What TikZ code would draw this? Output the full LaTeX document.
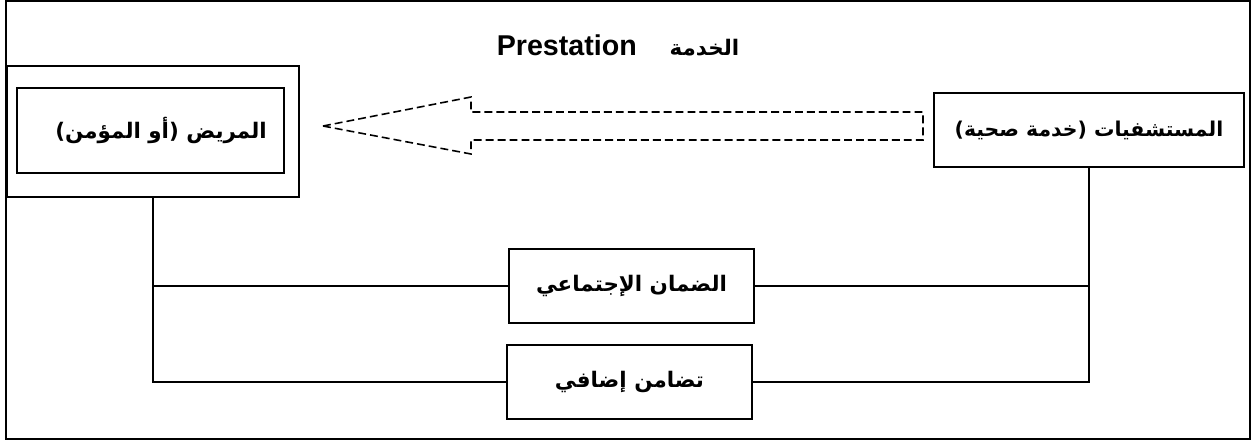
\documentclass[tikz,border=0pt]{standalone}
\usepackage{fontspec}
\setmainfont{Liberation Sans}
\newfontfamily\arabicfont[Script=Arabic]{DejaVu Sans}
\TeXXeTstate=1
\usetikzlibrary{positioning}

\begin{document}
\begin{tikzpicture}[x=0.02cm,y=-0.02cm]
    \pgfmathsetmacro{\boxwidth}{4.9}
    \pgfmathsetmacro{\boxheight}{1.48}
    \providecommand{\labelfontsize}{\fontsize{12.2pt}{14pt}\selectfont}
    \providecommand{\titlefontsize}{\fontsize{16.3pt}{18pt}\selectfont}
    \tikzset{
        plainbox/.style={draw,line width=1.3pt,inner sep=0pt,font=\labelfontsize\arabicfont\bfseries},
        link/.style={line width=1.2pt},
        flowarrow/.style={line width=0.9pt,dash pattern=on 4.5pt off 2.3pt}
    }
    \useasboundingbox (0,0) rectangle (1251,441);
    \draw[line width=0.95pt] (6,1) rectangle (1250,439);
    % title
    \node[font=\titlefontsize\bfseries] (title) at (618,45) {Prestation\hspace{18.7pt}{\labelfontsize\arabicfont\beginR الخدمة\endR}};
    % patient side
    \node[plainbox,minimum width=5.84cm,minimum height=2.62cm] (patientframe) at (153,131.5) {};
    \node[plainbox,minimum width=5.34cm,minimum height=1.70cm] (patient) at (150.5,130.5) {\hspace{12pt}\beginR المريض (أو المؤمن)\endR};
    % hospitals
    \node[plainbox,minimum width=6.2cm,minimum height=\boxheight cm,font=\fontsize{11.6pt}{14pt}\selectfont\arabicfont\bfseries] (hospital) at (1089,130) {\beginR المستشفيات (خدمة صحية)\endR};
    % payers
    \node[plainbox,minimum width=\boxwidth cm,minimum height=\boxheight cm] (social) at (631.5,286) {\beginR الضمان الإجتماعي\endR};
    \node[plainbox,minimum width=\boxwidth cm,minimum height=\boxheight cm] (mutual) at (629.5,382) {\beginR تضامن إضافي\endR};
    % dashed service arrow
    \draw[flowarrow] (323,126) -- (471,97) -- (471,112) -- (923,112) -- (923,140)
        -- (471,140) -- (471,154) -- cycle;
    % links
    \draw[link] (patientframe.south) |- (social.west);
    \draw[link] (patientframe.south) |- (mutual.west);
    \draw[link] (hospital.south) |- (social.east);
    \draw[link] (hospital.south) |- (mutual.east);
\end{tikzpicture}
\end{document}
